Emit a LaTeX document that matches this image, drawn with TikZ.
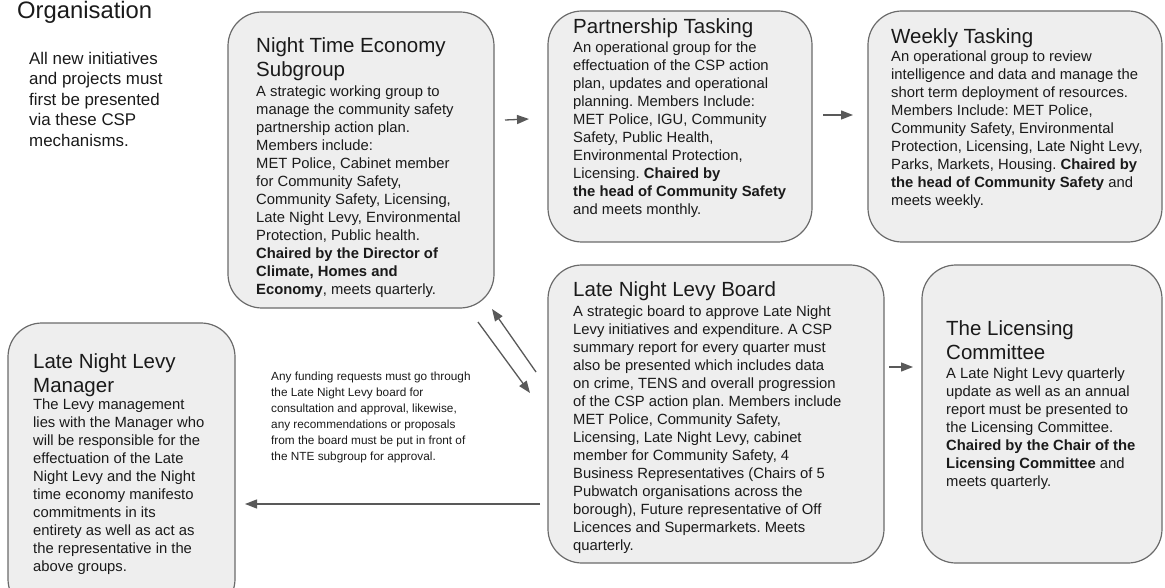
\documentclass[tikz,border=0pt]{standalone}
\usepackage{fontspec}
\setmainfont{Liberation Sans}
\usetikzlibrary{arrows.meta,calc}
\definecolor{boxfill}{HTML}{EEEEEE}
\definecolor{boxline}{HTML}{6A6A6A}
\definecolor{arrowc}{HTML}{595959}
\definecolor{txt}{HTML}{1A1A1A}
\frenchspacing
\begin{document}
\begin{tikzpicture}[x=1pt,y=-1pt,
  box/.style={draw=boxline, fill=boxfill, line width=1.2pt, rounded corners=34pt, rectangle, anchor=north west, inner sep=0pt, outer sep=0pt},
  ttl/.style={anchor=north west, inner sep=0pt, align=left, text=txt, font=\fontsize{20.5}{24.5}\selectfont},
  body/.style={anchor=north west, inner sep=0pt, align=left, text=txt, font=\fontsize{14.8}{18}\selectfont},
  note/.style={anchor=north west, inner sep=0pt, align=left, text=txt, font=\fontsize{16.9}{20.4}\selectfont},
  small/.style={anchor=north west, inner sep=0pt, align=left, text=txt, font=\fontsize{11.8}{16}\selectfont},
  arr/.style={draw=arrowc, line width=1.3pt, -{Triangle[length=12pt,width=9pt]}}]
\useasboundingbox (0,0) rectangle (1165,588);
\clip (0,0) rectangle (1165,588);

% heading and note
\node[anchor=base west, inner sep=0pt, text=txt, font=\fontsize{23.8}{28}\selectfont] (org) at (17,19) {Organisation};
\node[note] (intro) at (29,52) {All new initiatives\\and projects must\\first be presented\\via these CSP\\mechanisms.};

% boxes
\node[box, minimum width=266pt, minimum height=296pt] (nte) at (228,12) {};
\node[box, minimum width=264pt, minimum height=231pt] (pt) at (548,11) {};
\node[box, minimum width=294pt, minimum height=231pt] (wt) at (868,11) {};
\node[box, minimum width=336pt, minimum height=298pt] (lnlb) at (548,265) {};
\node[box, minimum width=240pt, minimum height=298pt] (lc) at (922,265) {};
\node[box, minimum width=227pt, minimum height=290pt] (lnlm) at (8,323) {};

% NTE text
\node[ttl] (ntet) at (256,37) {Night Time Economy\\Subgroup};
\node[body] (nteb) at (256,86) {A strategic working group to\\manage the community safety\\partnership action plan.\\Members include:\\MET Police, Cabinet member\\for Community Safety,\\Community Safety, Licensing,\\Late Night Levy, Environmental\\Protection, Public health.\\\textbf{Chaired by the Director of}\\\textbf{Climate, Homes and}\\\textbf{Economy}, meets quarterly.};

% Partnership Tasking
\node[ttl] (ptt) at (573,18) {Partnership Tasking};
\node[body] (ptb) at (573,42) {An operational group for the\\effectuation of the CSP action\\plan, updates and operational\\planning. Members Include:\\MET Police, IGU, Community\\Safety, Public Health,\\Environmental Protection,\\Licensing. \textbf{Chaired by}\\\textbf{the head of Community Safety}\\and meets monthly.};

% Weekly Tasking
\node[ttl] (wtt) at (891,28) {Weekly Tasking};
\node[body] (wtb) at (891,51) {An operational group to review\\intelligence and data and manage the\\short term deployment of resources.\\Members Include: MET Police,\\Community Safety, Environmental\\Protection, Licensing, Late Night Levy,\\Parks, Markets, Housing. \textbf{Chaired by}\\\textbf{the head of Community Safety} and\\meets weekly.};

% Late Night Levy Board
\node[ttl] (lnlbt) at (573,281) {Late Night Levy Board};
\node[body] (lnlbb) at (573,306) {A strategic board to approve Late Night\\Levy initiatives and expenditure. A CSP\\summary report for every quarter must\\also be presented which includes data\\on crime, TENS and overall progression\\of the CSP action plan. Members include\\MET Police, Community Safety,\\Licensing, Late Night Levy, cabinet\\member for Community Safety, 4\\Business Representatives (Chairs of 5\\Pubwatch organisations across the\\borough), Future representative of Off\\Licences and Supermarkets. Meets\\quarterly.};

% Licensing Committee
\node[ttl] (lct) at (946,320) {The Licensing\\Committee};
\node[body] (lcb) at (946,368) {A Late Night Levy quarterly\\update as well as an annual\\report must be presented to\\the Licensing Committee.\\\textbf{Chaired by the Chair of the}\\\textbf{Licensing Committee} and\\meets quarterly.};

% Late Night Levy Manager
\node[ttl] (lnlmt) at (33,353) {Late Night Levy\\Manager};
\node[body] (lnlmb) at (33,399) {The Levy management\\lies with the Manager who\\will be responsible for the\\effectuation of the Late\\Night Levy and the Night\\time economy manifesto\\commitments in its\\entirety as well as act as\\the representative in the\\above groups.};

% funding note
\node[small] (fund) at (271,372) {Any funding requests must go through\\the Late Night Levy board for\\consultation and approval, likewise,\\any recommendations or proposals\\from the board must be put in front of\\the NTE subgroup for approval.};

% connectors
\draw[arr] ($(nte.north east)+(11,108)$) -- ($(pt.north west)+(-19,108)$);
\draw[arr] ($(pt.north east)+(11,104)$) -- ($(wt.north west)+(-15,104)$);
\draw[arr] ($(lnlb.north east)+(5,102)$) -- ($(lc.north west)+(-9,102)$);
\draw[arr] ($(lnlb.north west)+(-8,239)$) -- ($(lnlm.north east)+(10,181)$);
\draw[arr] ($(lnlb.north west)+(-12,107)$) -- ($(nte.south east)+(-2,1)$);
\draw[arr] ($(nte.south east)+(-16,14)$) -- ($(lnlb.north west)+(-18,128)$);
\end{tikzpicture}
\end{document}
